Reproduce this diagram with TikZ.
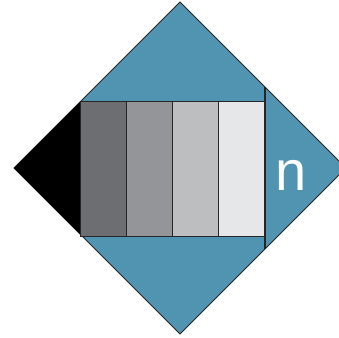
\documentclass[tikz,border=0pt]{standalone}
\usepackage{fontspec}
\setmainfont{Liberation Sans}
\definecolor{dblue}{HTML}{5194B2}
\definecolor{g1}{HTML}{6D6E71}
\definecolor{g2}{HTML}{939598}
\definecolor{g3}{HTML}{BCBEC0}
\definecolor{g4}{HTML}{E6E7E8}
\begin{document}
\begin{tikzpicture}[x=1pt,y=-1pt,
  outl/.style={draw=black!85,line width=0.8pt},
  cell/.style={draw=black!85,line width=1pt}]
\useasboundingbox (0,0) rectangle (339,337);
\clip (0,0) rectangle (339,337);
\filldraw[fill=dblue,outl] (180,2) -- (346,168) -- (180,334) -- (14,168) -- cycle;
\fill[black] (14,168) -- (80,102) -- (80,234) -- cycle;
\filldraw[fill=g1,cell] (80,101) rectangle (126,236);
\filldraw[fill=g2,cell] (126,101) rectangle (172,236);
\filldraw[fill=g3,cell] (172,101) rectangle (218,236);
\filldraw[fill=g4,cell] (218,101) rectangle (265,236);
\draw[black!85,line width=1.4pt] (265,87) -- (265,249);
\node[text=white,font=\fontsize{56}{60}\selectfont,anchor=base] (n) at (291,190) {n};
\end{tikzpicture}
\end{document}
